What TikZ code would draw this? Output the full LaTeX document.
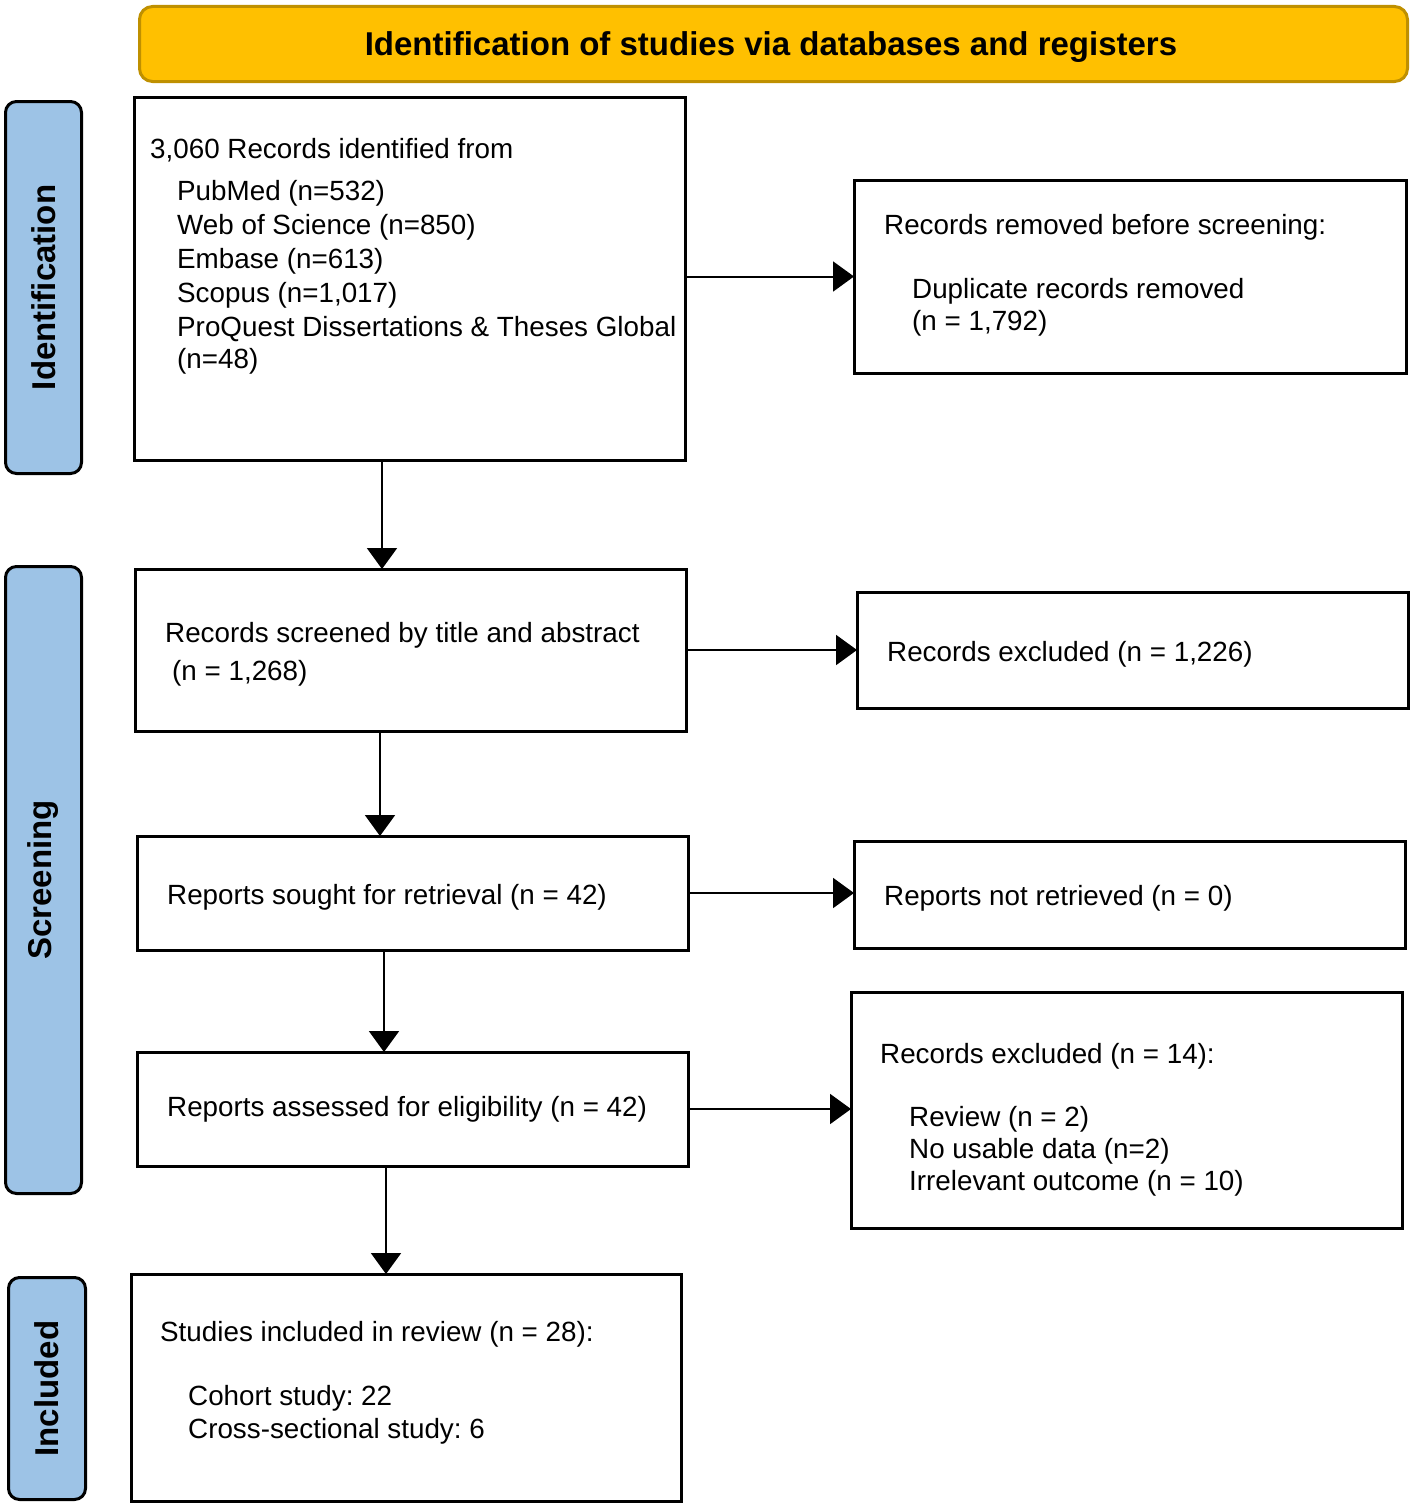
\documentclass[tikz,border=0pt]{standalone}
\usepackage{fontspec}
\setmainfont{Liberation Sans}
\usetikzlibrary{arrows.meta}
\definecolor{hdrfill}{HTML}{FFC000}
\definecolor{hdrdraw}{HTML}{BF9000}
\definecolor{sidefill}{HTML}{9DC3E6}
\frenchspacing
\begin{document}
\begin{tikzpicture}[x=1pt,y=-1pt,
  box/.style={draw, line width=3pt, inner sep=0pt, outer sep=0pt, anchor=north west, fill=white},
  side/.style={draw, line width=3pt, fill=sidefill, rounded corners=11pt, inner sep=0pt, anchor=north west},
  sidetxt/.style={rotate=90, font=\fontsize{33}{36}\selectfont\bfseries},
  txt/.style={anchor=base west, inner sep=0pt, font=\fontsize{27.8}{33}\selectfont},
  arr/.style={line width=2pt, -{Triangle[length=21pt,width=30pt]}}
]
\useasboundingbox (0,0) rectangle (1412,1504);
% header
\node[draw=hdrdraw, fill=hdrfill, line width=3pt, rounded corners=13pt, inner sep=0pt, anchor=north west,
  minimum width=1268pt, minimum height=75pt] (hdr) at (138,5) {};
\node[font=\fontsize{33}{36}\selectfont\bfseries] (hdrt) at (771,47) {Identification of studies via databases and registers};
% side bars
\node[side, minimum width=76pt, minimum height=372pt] (s1) at (4,100) {};
\node[sidetxt] (s1t) at (s1.center) {Identification};
\node[side, minimum width=76pt, minimum height=627pt] (s2) at (4,565) {};
\node[sidetxt] (s2t) at (s2.center) {Screening};
\node[side, minimum width=77pt, minimum height=222pt] (s3) at (7,1276) {};
\node[sidetxt] (s3t) at (s3.center) {Included};
% boxes
\node[box, minimum width=551pt, minimum height=363pt] (b1) at (134,97) {};
\node[box, minimum width=552pt, minimum height=193pt] (r1) at (854,180) {};
\node[box, minimum width=551pt, minimum height=162pt] (b2) at (135,569) {};
\node[box, minimum width=551pt, minimum height=116pt] (r2) at (857,592) {};
\node[box, minimum width=551pt, minimum height=114pt] (b3) at (137,836) {};
\node[box, minimum width=551pt, minimum height=107pt] (r3) at (854,841) {};
\node[box, minimum width=551pt, minimum height=114pt] (b4) at (137,1052) {};
\node[box, minimum width=551pt, minimum height=236pt] (r4) at (851,992) {};
\node[box, minimum width=550pt, minimum height=227pt] (b5) at (131,1274) {};
% texts
\node[txt] (t1a) at (150,158) {3,060 Records identified from};
\node[txt] (t1b) at (177,200) {PubMed (n=532)};
\node[txt] (t1c) at (177,234) {Web of Science (n=850)};
\node[txt] (t1d) at (177,268) {Embase (n=613)};
\node[txt] (t1e) at (177,302) {Scopus (n=1,017)};
\node[txt] (t1f) at (177,336) {ProQuest Dissertations \& Theses Global};
\node[txt] (t1g) at (177,368) {(n=48)};
\node[txt] (u1a) at (884,234) {Records removed before screening:};
\node[txt] (u1b) at (912,298) {Duplicate records removed};
\node[txt] (u1c) at (912,330) {(n = 1,792)};
\node[txt] (t2a) at (165,642) {Records screened by title and abstract};
\node[txt] (t2b) at (172,680) {(n = 1,268)};
\node[txt] (u2a) at (887,661) {Records excluded (n = 1,226)};
\node[txt] (t3a) at (167,904) {Reports sought for retrieval (n = 42)};
\node[txt] (u3a) at (884,905) {Reports not retrieved (n = 0)};
\node[txt] (t4a) at (167,1116) {Reports assessed for eligibility (n = 42)};
\node[txt] (u4a) at (880,1063) {Records excluded (n = 14):};
\node[txt] (u4b) at (909,1126) {Review (n = 2)};
\node[txt] (u4c) at (909,1158) {No usable data (n=2)};
\node[txt] (u4d) at (909,1190) {Irrelevant outcome (n = 10)};
\node[txt] (t5a) at (160,1341) {Studies included in review (n = 28):};
\node[txt] (t5b) at (188,1405) {Cohort study: 22};
\node[txt] (t5c) at (188,1438) {Cross-sectional study: 6};
% arrows
\draw[arr] ([xshift=248pt]b1.south west) -- ([xshift=247pt]b2.north west);
\draw[arr] ([xshift=245pt]b2.south west) -- ([xshift=243pt]b3.north west);
\draw[arr] ([xshift=247pt]b3.south west) -- ([xshift=247pt]b4.north west);
\draw[arr] ([xshift=249pt]b4.south west) -- ([xshift=255pt]b5.north west);
\draw[arr] (b1.east |- r1.west) -- (r1.west);
\draw[arr] (b2.east) -- (r2.west |- b2.east);
\draw[arr] (b3.east) -- (r3.west |- b3.east);
\draw[arr] (b4.east) -- (r4.west |- b4.east);
\end{tikzpicture}
\end{document}
